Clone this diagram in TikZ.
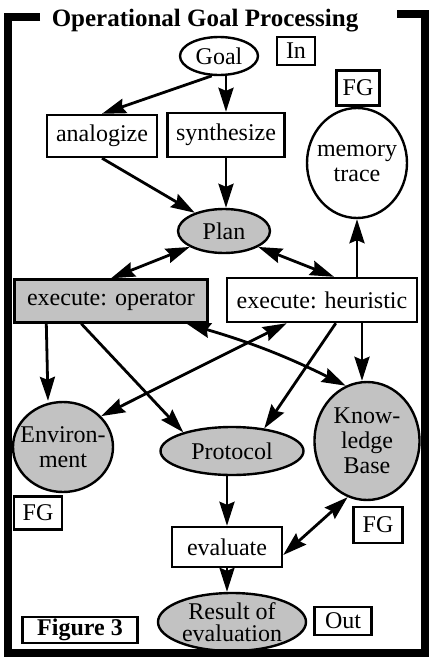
\documentclass[tikz,border=0pt]{standalone}
\usepackage{fontspec}
\setmainfont{Liberation Serif}
\usetikzlibrary{shapes.geometric,arrows.meta,calc}

\tikzset{
  txt/.style={font=\fontsize{24}{25}\selectfont, align=center, inner sep=0pt},
  boxnode/.style={txt, draw, line width=2.4pt, rectangle},
  ovalnode/.style={txt, draw, line width=2.4pt, ellipse},
  stipple/.style={fill=black!24},
  arr/.style={line width=2.8pt, -{Stealth[length=24pt,width=15pt,inset=3pt]}},
  darr/.style={line width=2.8pt, {Stealth[length=24pt,width=15pt,inset=3pt]}-{Stealth[length=24pt,width=15pt,inset=3pt]}},
  frame/.style={line width=8pt, line join=miter}
}

\begin{document}
\begin{tikzpicture}[x=1pt,y=-1pt]
\useasboundingbox (0,0) rectangle (429,659);

% nodes
\node[ovalnode, minimum width=78pt, minimum height=38pt] (goal) at (219,56) {Goal};
\node[boxnode, minimum width=38pt, minimum height=28pt] (in) at (296,51) {In};
\node[boxnode, minimum width=43pt, minimum height=35pt] (fgtop) at (358,88) {FG};
\node[ovalnode, inner xsep=-8pt, minimum width=100pt, minimum height=110pt] (mem) at (357,163) {memory\\trace};
\node[boxnode, minimum width=110pt, minimum height=42pt] (ana) at (102,136) {analogize};
\node[boxnode, minimum width=117pt, minimum height=44pt] (syn) at (226,135) {synthesize};
\node[ovalnode, stipple, minimum width=92pt, minimum height=44pt] (plan) at (224,231) {Plan};
\node[boxnode, stipple, minimum width=193pt, minimum height=43pt] (exop) at (111,301) {execute: operator};
\node[boxnode, minimum width=190pt, minimum height=44pt] (exh) at (322,300) {execute: heuristic};
\node[ovalnode, stipple, inner xsep=-10pt, minimum width=100pt, minimum height=90pt] (env) at (63,447) {Environ-\\ment};
\node[ovalnode, stipple, minimum width=143pt, minimum height=48pt] (prot) at (232,451) {Protocol};
\node[ovalnode, stipple, inner xsep=-4pt, minimum width=105pt, minimum height=118pt] (kb) at (367,441) {Know-\\ledge\\Base};
\node[boxnode, minimum width=48pt, minimum height=33pt] (fgl) at (38,513) {FG};
\node[boxnode, minimum width=49pt, minimum height=36pt] (fgr) at (378,525) {FG};
\node[boxnode, minimum width=110pt, minimum height=40pt] (eval) at (227,547) {evaluate};
\node[ovalnode, stipple, inner xsep=-4pt, minimum width=148pt, minimum height=58pt,
      font=\fontsize{24}{22}\selectfont] (res) at (232,622) {Result of\\evaluation};
\node[boxnode, minimum width=57pt, minimum height=28pt] (out) at (343,621) {Out};
\node[boxnode, minimum width=115pt, minimum height=26pt, font=\fontsize{24}{25}\bfseries] (fig) at (80,630) {Figure 3};

% connectors
\draw[arr] (goal.250) -- (ana.north);
\draw[arr] (goal.south -| syn.north) -- (syn.north);
\draw[arr] (ana.south) -- (plan.148);
\draw[arr] (syn.south) -- (syn.south |- plan.north);
\draw[darr] (plan.205) -- (exop.north);
\draw[darr] (plan.335) -- ([xshift=12pt]exh.north);
\draw[arr] (exh.north -| mem.south) -- (mem.south);
\draw[arr] ([xshift=33pt]exop.south west) -- ([xshift=-15pt]env.north);
\draw[arr] ([xshift=68pt]exop.south west) -- (prot.159);
\draw[darr] ([xshift=-22pt]exop.south east) to[bend left=5] (kb.111);
\draw[darr] ([xshift=61pt]exh.south west) -- (env.39);
\draw[arr] ([xshift=110pt]exh.south west) -- (prot.35);
\draw[arr] ([xshift=-5pt]kb.north |- exh.south) -- ([xshift=-5pt]kb.north);
\draw[arr] (eval.north |- prot.south) -- (eval.north);
\draw[arr] (eval.south) -- (eval.south |- res.north);
\draw[darr] ([yshift=-8pt]eval.east) -- (kb.251);

% title and frame
\node[txt, font=\fontsize{25}{26}\bfseries, anchor=base] (title) at (205,26) {Operational Goal Processing};
\draw[frame] (40,16.5) -- (7.5,16.5) -- (7.5,652.5) -- (424.5,652.5) -- (424.5,14) -- (397,14);
\end{tikzpicture}
\end{document}
